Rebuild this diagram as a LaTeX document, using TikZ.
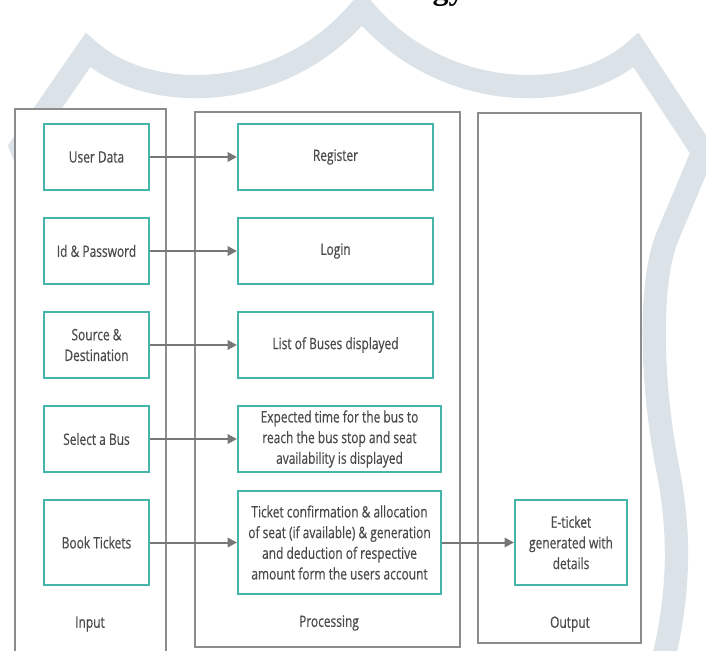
\documentclass[tikz,border=0pt]{standalone}
\usepackage{fontspec}
\setmainfont{Open Sans}[FakeStretch=0.76,FakeBold=0.4]
\newfontfamily\titlefont{Liberation Serif}
\usetikzlibrary{arrows.meta}
\definecolor{teal1}{HTML}{45B5AA}
\definecolor{colgray}{HTML}{8C8C8C}
\definecolor{arrgray}{HTML}{777777}
\definecolor{txtgray}{HTML}{4A4A4A}
\definecolor{shieldc}{HTML}{DCE3E8}
\begin{document}
\begin{tikzpicture}[x=0.75pt,y=-0.75pt,
  wh/.style 2 args={minimum width=#1*0.75pt,minimum height=#2*0.75pt},
  column/.style={draw=colgray,line width=1.5pt,fill=white,inner sep=0pt},
  tbox/.style={draw=teal1,line width=1.5pt,fill=white,text=txtgray,align=center,inner sep=0pt,font=\fontsize{11.8pt}{15.5pt}\selectfont},
  lbl/.style={text=txtgray,font=\fontsize{11.8pt}{15.5pt}\selectfont,inner sep=0pt},
  flow/.style={draw=arrgray,line width=1.5pt,-{Triangle[length=7pt,width=7pt]}}]
\useasboundingbox (0,0) rectangle (706,650);
\clip (0,0) rectangle (706,650);
% watermark shield
\draw[shieldc,line width=17.5pt,line join=miter]
  (54,690) .. controls (42,600) and (44,530) .. (56,470)
  .. controls (72,390) and (76,290) .. (58,240)
  -- (21,147) -- (88,50)
  .. controls (150,106) and (285,102) .. (362,8)
  .. controls (439,102) and (574,106) .. (636,50)
  -- (703,152) -- (666,240)
  .. controls (648,290) and (652,390) .. (668,470)
  .. controls (684,550) and (676,620) .. (655,690);
% title (cut off at the top edge)
\node[font=\titlefont\bfseries\fontsize{24pt}{24pt}\selectfont,anchor=base east,inner sep=0pt] (title) at (465,-1) {Methodology};
% columns
\node[column,wh={151}{551}] (incol) at (90.5,384.5) {};
\node[column,wh={265}{535}] (procol) at (327.5,379.5) {};
\node[column,wh={163}{530}] (outcol) at (559.5,378) {};
\node[lbl] (inlbl) at (90,624) {Input};
\node[lbl] (prolbl) at (329,623) {Processing};
\node[lbl] (outlbl) at (570,624) {Output};
% input boxes
\node[tbox,wh={105}{66}] (ud) at (96.5,157) {User Data};
\node[tbox,wh={105}{66}] (idp) at (96.5,251) {Id \& Password};
\node[tbox,wh={105}{66}] (sd) at (96.5,345) {Source \&\\Destination};
\node[tbox,wh={105}{66}] (sb) at (96.5,439) {Select a Bus};
\node[tbox,wh={105}{85}] (bt) at (96.5,542.5) {Book Tickets};
% processing boxes
\node[tbox,wh={195}{66}] (reg) at (335.5,157) {Register};
\node[tbox,wh={195}{66}] (login) at (335.5,251) {Login};
\node[tbox,wh={195}{66}] (list) at (335.5,345) {List of Buses displayed};
\node[tbox,wh={203}{66}] (exp) at (339.5,439) {Expected time for the bus to\\reach the bus stop and seat\\availability is displayed};
\node[tbox,wh={203}{103}] (tc) at (339.5,542.5) {Ticket confirmation \& allocation\\of seat (if available) \& generation\\and deduction of respective\\amount form the users account};
% output box
\node[tbox,wh={112}{85}] (et) at (571,542.5) {E-ticket\\generated with\\details};
% arrows
\draw[flow] (ud) -- (reg);
\draw[flow] (idp) -- (login);
\draw[flow] (sd) -- (list);
\draw[flow] (sb) -- (exp);
\draw[flow] (bt) -- (tc);
\draw[flow] (tc) -- (et);
\end{tikzpicture}
\end{document}
